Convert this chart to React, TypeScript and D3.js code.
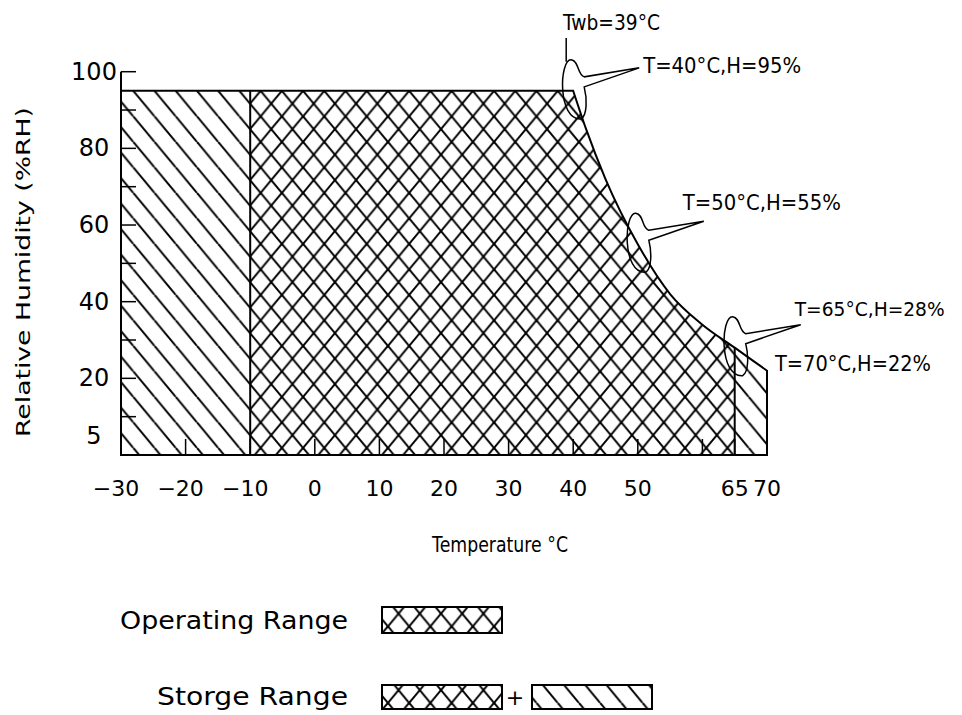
import React from 'react';
import * as d3 from 'd3';

// wet-bulb 39°C boundary (temperature °C, humidity %RH)
const curveTemps = [40, 42, 45, 50, 55, 60, 65, 70];
const curveHums = [95, 85, 72, 55, 42, 34, 28, 22];

const storageTemps = [-30, 70];
const operatingTemps = [-10, 65];
const maxHum = 95;

const xTickLabels = [-30, -20, -10, 0, 10, 20, 30, 40, 50, 65, 70];
const xTickMarks = [-20, -10, 0, 10, 20, 30, 40, 50, 60, 65];
const yTickLabels = [100, 80, 60, 40, 20, 5];
const yTickMarks = [10, 20, 30, 40, 50, 60, 70, 80, 90, 100];

const calloutTemps = [40, 50, 65];
const calloutHums = [95, 55, 28];
const calloutLabels = ['T=40°C,H=95%', 'T=50°C,H=55%', 'T=65°C,H=28%'];
const endTemp = 70;
const endHum = 22;
const endLabel = 'T=70°C,H=22%';
const wetBulbLabel = 'Twb=39°C';

const FONT = "'DejaVu Sans', sans-serif";

export default function App() {
  const x = d3.scaleLinear().domain([-30, 70]).range([121, 767]);
  const y = d3.scaleLinear().domain([0, 100]).range([455, 71.7]);

  const pts: [number, number][] = curveTemps.map((t, i) => [t, curveHums[i]]);
  const line = d3.line<[number, number]>()
    .x(d => x(d[0]))
    .y(d => y(d[1]))
    .curve(d3.curveMonotoneX);
  const curveD = line(pts) || '';

  const storageD =
    `M${x(storageTemps[0])},${y(0)}L${x(storageTemps[0])},${y(maxHum)}` +
    curveD.replace(/^M/, 'L') +
    `L${x(storageTemps[1])},${y(0)}Z`;

  // pattern geometry
  const pw = 21.22, ph = 25.5;
  const ox = x(-30) + 12.3, oy = y(maxHum);

  // callout layout offsets
  const textDx = [70, 45, 60];
  const textDy = [-25, -41, -39];
  const textLen = [158, 158, 150];

  const balloon = (px: number, py: number) =>
    `M${px + 8},${py + 28}` +
    `C${px - 16},${py + 30} ${px - 14},${py - 32} ${px - 2},${py - 31}` +
    `C${px + 6},${py - 30} ${px + 4},${py - 16} ${px + 11},${py - 14}` +
    `L${px + 66},${py - 23}` +
    `L${px + 11},${py - 4}` +
    `C${px + 14},${py + 8} ${px + 14},${py + 24} ${px + 8},${py + 28}Z`;

  const wbx = x(calloutTemps[0]) - 7;

  return (
    <svg width={962} height={715} style={{ position: 'absolute', left: 0, top: 0, background: '#fff' }}
      fontFamily={FONT}>
      <defs>
        <pattern id="diag" patternUnits="userSpaceOnUse" x={ox} y={oy} width={pw} height={ph}>
          <rect width={pw} height={ph} fill="#fff" />
          <g stroke="#000" strokeWidth={2}>
            <line x1={0} y1={0} x2={pw} y2={ph} />
            <line x1={-pw} y1={0} x2={0} y2={ph} />
            <line x1={pw} y1={0} x2={2 * pw} y2={ph} />
          </g>
        </pattern>
        <pattern id="cross" patternUnits="userSpaceOnUse" x={ox} y={oy} width={pw} height={ph}>
          <rect width={pw} height={ph} fill="#fff" />
          <g stroke="#000" strokeWidth={2}>
            <line x1={0} y1={0} x2={pw} y2={ph} />
            <line x1={-pw} y1={0} x2={0} y2={ph} />
            <line x1={pw} y1={0} x2={2 * pw} y2={ph} />
            <line x1={0} y1={ph} x2={pw} y2={0} />
            <line x1={-pw} y1={ph} x2={0} y2={0} />
            <line x1={pw} y1={ph} x2={2 * pw} y2={0} />
          </g>
        </pattern>
        <clipPath id="storageClip">
          <path d={storageD} />
        </clipPath>
      </defs>

      {/* storage range */}
      <path d={storageD} fill="url(#diag)" />
      {/* operating range */}
      <g clipPath="url(#storageClip)">
        <rect x={x(operatingTemps[0])} y={y(100)} width={x(operatingTemps[1]) - x(operatingTemps[0])}
          height={y(0) - y(100)} fill="url(#cross)" />
        {operatingTemps.map(t => (
          <line key={t} x1={x(t)} x2={x(t)} y1={y(0)} y2={y(100)} stroke="#000" strokeWidth={2} />
        ))}
      </g>
      <path d={storageD} fill="none" stroke="#000" strokeWidth={2} />

      {/* axes */}
      <line x1={x(-30)} x2={x(-30)} y1={y(0)} y2={y(100)} stroke="#000" strokeWidth={2} />
      <line x1={x(-30)} x2={x(70)} y1={y(0)} y2={y(0)} stroke="#000" strokeWidth={2} />
      {yTickMarks.map(v => (
        <line key={v} x1={x(-30)} x2={x(-30) + 15} y1={y(v)} y2={y(v)} stroke="#000" strokeWidth={1.5} />
      ))}
      {xTickMarks.map(t => (
        <line key={t} x1={x(t)} x2={x(t)} y1={y(0)} y2={y(0) - 16} stroke="#000" strokeWidth={1.5} />
      ))}
      {yTickLabels.map(v => (
        <text key={v} x={94} y={y(v)} fontSize={24} textAnchor="middle" dominantBaseline="central">{v}</text>
      ))}
      {xTickLabels.map(t => (
        <text key={t} x={x(t) - (t < 0 ? 5 : 0)} y={488} fontSize={22} textAnchor="middle"
          dominantBaseline="central">{t < 0 ? '−' + Math.abs(t) : t}</text>
      ))}
      <text x={500} y={544} fontSize={22} textAnchor="middle" dominantBaseline="central"
        textLength={136} lengthAdjust="spacingAndGlyphs">Temperature °C</text>
      <text transform="translate(23,272) rotate(-90)" fontSize={20} textAnchor="middle"
        dominantBaseline="central" textLength={330} lengthAdjust="spacingAndGlyphs">Relative Humidity (%RH)</text>

      {/* callouts */}
      {calloutTemps.map((t, i) => {
        const px = x(t), py = y(calloutHums[i]);
        return (
          <g key={t}>
            <path d={balloon(px, py)} fill="none" stroke="#000" strokeWidth={1.5} />
            <text x={px + textDx[i]} y={py + textDy[i]} fontSize={i === 2 ? 19 : 21} dominantBaseline="central"
              textLength={textLen[i]} lengthAdjust="spacingAndGlyphs">{calloutLabels[i]}</text>
          </g>
        );
      })}
      <text x={x(endTemp) + 8} y={y(endHum) - 7} fontSize={21} dominantBaseline="central"
        textLength={156} lengthAdjust="spacingAndGlyphs">{endLabel}</text>
      <line x1={wbx} x2={wbx} y1={38} y2={y(calloutHums[0]) - 29} stroke="#000" strokeWidth={1.5} />
      <text x={563} y={23} fontSize={21} dominantBaseline="central"
        textLength={97} lengthAdjust="spacingAndGlyphs">{wetBulbLabel}</text>

      {/* legend */}
      <text x={120} y={621} fontSize={24} dominantBaseline="central"
        textLength={228} lengthAdjust="spacingAndGlyphs">Operating Range</text>
      <rect x={382} y={607} width={120} height={26} fill="url(#cross)" stroke="#000" strokeWidth={2} />
      <text x={157} y={697} fontSize={24} dominantBaseline="central"
        textLength={191} lengthAdjust="spacingAndGlyphs">Storge Range</text>
      <rect x={382} y={685} width={120} height={24} fill="url(#cross)" stroke="#000" strokeWidth={2} />
      <text x={515} y={697} fontSize={22} textAnchor="middle" dominantBaseline="central">+</text>
      <rect x={532} y={685} width={120} height={24} fill="url(#diag)" stroke="#000" strokeWidth={2} />
    </svg>
  );
}
